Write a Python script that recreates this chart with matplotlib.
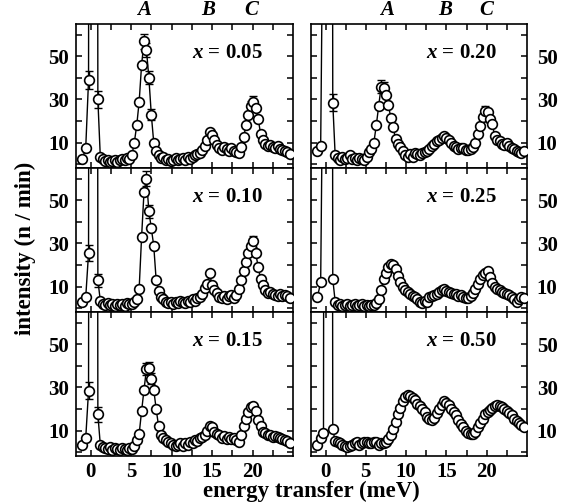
import matplotlib
matplotlib.use('Agg')
import matplotlib.pyplot as plt
from matplotlib.ticker import FixedLocator
import matplotlib.transforms as mtransforms

plt.rcParams['font.family'] = 'Liberation Serif'
plt.rcParams['font.weight'] = 'bold'
plt.rcParams['mathtext.fontset'] = 'custom'
plt.rcParams['mathtext.it'] = 'Liberation Serif:italic:bold'
plt.rcParams['mathtext.rm'] = 'Liberation Serif:bold'

# energy grid of the inelastic points (meV)
energy = [1.2, 1.5, 1.8, 2.1, 2.4, 2.7, 3.0, 3.3, 3.6, 3.9,
          4.2, 4.5, 4.8, 5.1, 5.4, 5.7, 6.0, 6.3, 6.6, 6.9,
          7.2, 7.5, 7.8, 8.1, 8.4, 8.7, 9.0, 9.3, 9.6, 9.9,
          10.2, 10.5, 10.8, 11.1, 11.4, 11.7, 12.0, 12.3, 12.6, 12.9,
          13.2, 13.5, 13.8, 14.1, 14.4, 14.7, 15.0, 15.3, 15.6, 15.9,
          16.2, 16.5, 16.8, 17.1, 17.4, 17.7, 18.0, 18.3, 18.6, 18.9,
          19.2, 19.5, 19.8, 20.1, 20.4, 20.7, 21.0, 21.3, 21.6, 21.9,
          22.2, 22.5, 22.8, 23.1, 23.4, 23.7, 24.0, 24.3, 24.6]

# points around the elastic line (the one at 0.3 is far off scale)
elastic_e = [-1.0, -0.6, -0.25, 0.3, 0.9]

i_005 = [3.5, 2.5, 1.5, 2.0, 1.0, 1.5, 2.0, 1.2, 2.0, 2.5,
         2.0, 3.0, 2.5, 4.0, 10.0, 18.0, 29.0, 46.0, 57.0, 53.0,
         40.0, 23.0, 10.0, 6.0, 4.0, 3.0, 3.5, 2.0, 2.5, 1.5,
         2.0, 3.0, 2.0, 2.5, 3.0, 2.0, 3.5, 2.5, 3.5, 4.0,
         4.5, 5.0, 6.5, 8.5, 11.0, 15.0, 13.5, 11.0, 9.0, 7.5,
         6.5, 8.0, 7.0, 6.0, 7.5, 6.0, 5.5, 5.0, 8.0, 12.5,
         18.0, 23.0, 27.0, 29.0, 26.0, 21.0, 14.0, 11.0, 9.5, 8.5,
         9.0, 8.0, 7.5, 8.5, 7.0, 6.5, 6.0, 5.5, 4.5]
i_010 = [3.5, 2.0, 1.5, 2.5, 1.5, 2.0, 1.0, 2.0, 1.5, 2.0,
         1.0, 2.5, 2.0, 2.0, 3.0, 4.0, 9.0, 33.0, 54.0, 60.0,
         45.0, 37.0, 29.0, 13.0, 8.0, 5.0, 4.0, 3.0, 2.5, 3.0,
         2.0, 3.0, 2.5, 3.5, 3.0, 2.5, 3.5, 3.0, 4.0, 3.5,
         4.5, 5.0, 6.5, 9.5, 11.0, 16.5, 10.5, 8.5, 7.0, 5.0,
         4.5, 5.5, 4.0, 5.5, 6.0, 4.5, 6.0, 9.0, 13.0, 17.0,
         21.5, 25.5, 29.0, 31.0, 25.5, 19.0, 13.5, 10.5, 8.5, 7.0,
         7.5, 6.5, 6.0, 5.5, 6.5, 5.5, 6.0, 5.5, 4.5]
i_015 = [3.5, 2.5, 2.0, 1.5, 2.5, 1.0, 2.0, 1.5, 1.0, 2.0,
         1.5, 1.0, 2.0, 1.5, 3.0, 5.5, 8.5, 19.0, 29.0, 38.5,
         39.0, 34.0, 29.0, 20.0, 12.0, 8.0, 6.5, 5.5, 4.5, 4.0,
         3.5, 3.0, 3.5, 4.0, 3.0, 4.0, 3.5, 4.5, 4.0, 5.5,
         5.0, 6.5, 7.0, 8.0, 10.0, 12.0, 11.5, 9.5, 8.5, 8.0,
         6.5, 7.5, 6.0, 7.0, 6.0, 6.5, 5.5, 4.5, 8.0, 12.0,
         15.5, 18.5, 21.0, 21.5, 19.0, 15.0, 12.0, 9.5, 9.0, 8.0,
         8.0, 7.0, 7.5, 7.0, 6.5, 6.0, 5.5, 5.0, 4.0]
i_020 = [4.0, 3.0, 2.0, 3.5, 2.5, 3.0, 4.0, 2.5, 3.0, 2.0,
         3.0, 2.5, 2.0, 3.5, 5.5, 7.0, 10.0, 18.0, 27.0, 36.0,
         35.5, 32.0, 27.5, 21.5, 17.0, 11.5, 9.5, 8.0, 6.0, 4.0,
         3.5, 4.5, 3.5, 5.0, 4.5, 4.0, 5.0, 5.5, 6.0, 7.0,
         8.5, 9.5, 10.5, 11.0, 12.0, 13.0, 12.0, 11.0, 10.0, 8.5,
         8.0, 7.0, 7.5, 7.5, 6.5, 6.5, 7.0, 8.0, 10.0, 14.0,
         17.5, 22.0, 24.5, 24.0, 21.0, 18.5, 13.0, 11.0, 10.5, 9.5,
         9.0, 10.0, 8.5, 7.5, 7.0, 6.0, 5.5, 5.0, 6.0]
i_025 = [3.0, 1.5, 2.0, 1.0, 1.5, 2.0, 1.0, 1.5, 2.0, 1.0,
         1.5, 2.0, 1.0, 1.5, 1.0, 1.5, 1.5, 2.5, 4.0, 8.5,
         13.5, 16.5, 19.0, 20.5, 20.0, 18.0, 15.0, 12.0, 10.0, 8.5,
         7.5, 6.5, 5.5, 5.0, 4.0, 3.0, 2.5, 3.5, 3.0, 5.0,
         5.5, 6.0, 6.5, 7.5, 8.5, 9.0, 8.0, 7.5, 7.0, 6.5,
         6.5, 5.5, 6.0, 5.0, 4.5, 4.5, 5.5, 7.0, 9.0, 11.0,
         13.5, 15.5, 16.5, 17.0, 14.5, 11.5, 10.0, 9.0, 8.5, 7.5,
         7.0, 6.5, 6.0, 5.0, 4.0, 3.0, 4.0, 5.0, 4.5]
i_050 = [5.0, 4.5, 4.0, 3.5, 3.0, 2.5, 3.0, 3.5, 4.0, 4.5,
         3.5, 4.0, 4.5, 4.5, 4.0, 4.0, 4.5, 4.5, 3.5, 4.0,
         4.0, 4.5, 6.0, 8.0, 10.5, 14.0, 17.5, 20.5, 23.5, 25.5,
         26.5, 26.0, 25.0, 24.0, 22.5, 21.5, 20.0, 18.5, 16.5, 15.5,
         15.0, 16.0, 18.0, 20.0, 22.0, 23.5, 23.0, 22.0, 20.0, 18.5,
         17.0, 15.0, 13.0, 11.5, 10.0, 9.0, 8.5, 8.5, 9.5, 11.5,
         13.5, 15.5, 17.5, 18.5, 19.5, 20.5, 21.5, 22.0, 21.5, 21.0,
         20.0, 19.0, 18.0, 17.0, 15.5, 14.5, 13.5, 12.5, 11.5]

el_005 = [2.6, 7.5, 39.0, 2000.0, 30.0]
el_010 = [2.7, 5.0, 25.5, 2000.0, 13.0]
el_015 = [3.4, 6.5, 28.5, 2000.0, 17.5]
el_020 = [6.1, 8.5, 150.0, 2000.0, 28.5]
el_025 = [5.2, 12.0, 150.0, 2000.0, 13.5]
el_050 = [3.5, 6.5, 9.0, 2000.0, 10.7]

# visible error bars: (energy, intensity, error)
bars_005 = [(-0.25, 39.0, 4.3), (0.9, 30.0, 4.0), (6.6, 57.0, 3.5),
            (6.9, 53.0, 3.2), (7.2, 40.0, 3.0), (7.5, 23.0, 2.5),
            (20.1, 29.0, 2.5), (19.8, 27.0, 2.4)]
bars_010 = [(-0.25, 25.5, 3.8), (0.9, 13.0, 3.0), (6.9, 60.0, 3.5),
            (7.2, 45.0, 3.0), (20.1, 31.0, 2.5)]
bars_015 = [(-0.25, 28.5, 4.0), (0.9, 17.5, 3.5), (6.9, 38.5, 2.8),
            (7.2, 39.0, 2.8), (7.5, 34.0, 2.6)]
bars_020 = [(0.9, 28.5, 3.8), (6.9, 36.0, 2.8), (7.2, 35.5, 2.6),
            (19.8, 24.5, 2.3)]
bars_025 = []
bars_050 = []

conc_labels = ['0.05', '0.10', '0.15', '0.20', '0.25', '0.50']
intensities = [i_005, i_010, i_015, i_020, i_025, i_050]
elastics = [el_005, el_010, el_015, el_020, el_025, el_050]
bars = [bars_005, bars_010, bars_015, bars_020, bars_025, bars_050]

peak_names = ['A', 'B', 'C']
peak_pos_left = [6.6, 14.5, 19.8]
peak_pos_right = [7.6, 14.8, 20.0]

fig = plt.figure(figsize=(5.71, 5.04), dpi=100)

col_x = [76 / 571, 311 / 571]
col_w = [217 / 571, 216 / 571]
row_h = 144 / 504
row_y = [1 - 168 / 504, 1 - 312 / 504, 1 - 456 / 504]

for n in range(6):
    col = n // 3
    row = n % 3
    ax = fig.add_axes([col_x[col], row_y[row], col_w[col], row_h])

    e_all = elastic_e + energy
    i_all = elastics[n] + intensities[n]

    # fit line behind, then error bars, then open circles
    ax.plot(e_all, i_all, '-', color='black', lw=1.0, zorder=1)
    for (e, i, d) in bars[n]:
        ax.errorbar(e, i, yerr=d, fmt='none', ecolor='black',
                    elinewidth=1.0, capsize=2.6, capthick=1.0, zorder=2)
    ax.plot(e_all, i_all, 'o', mfc='white', mec='black', ms=7.0,
            mew=1.2, zorder=3)

    ax.set_xlim(-1.8, 25)
    ax.set_ylim(-1.8, 65)

    ax.xaxis.set_major_locator(FixedLocator([0, 5, 10, 15, 20]))
    ax.xaxis.set_minor_locator(FixedLocator([2.5, 7.5, 12.5, 17.5, 22.5]))
    ax.yaxis.set_major_locator(FixedLocator([10, 30, 50]))
    ax.yaxis.set_minor_locator(FixedLocator([0, 20, 40, 60]))

    ax.tick_params(which='both', direction='in', top=True, right=True,
                   bottom=True, left=True, length=4.5, width=1.1,
                   labelsize=15)
    ax.tick_params(axis='x', pad=4)
    ax.tick_params(axis='y', pad=5)
    if row != 2:
        ax.tick_params(axis='x', labelbottom=False)
    if col == 1:
        ax.tick_params(axis='y', labelleft=False, labelright=True, pad=7)
    for s in ax.spines.values():
        s.set_linewidth(1.2)

    ax.text(0.86, 0.80, r'$x$ = ' + conc_labels[n], transform=ax.transAxes,
            ha='right', va='center', fontsize=15, fontweight='bold')

    if row == 0:
        pos = peak_pos_left if col == 0 else peak_pos_right
        trans = mtransforms.blended_transform_factory(ax.transData, ax.transAxes)
        for name, p in zip(peak_names, pos):
            ax.text(p, 1.025, name, transform=trans, ha='center', va='bottom',
                    fontsize=15, fontweight='bold', fontstyle='italic')

fig.text(0.044, 0.508, 'intensity (n / min)', rotation=90, ha='center',
         va='center', fontsize=16.5, fontweight='bold')
fig.text(0.545, 0.025, 'energy transfer (meV)', ha='center', va='center',
         fontsize=16.5, fontweight='bold')

fig.savefig('out.png', dpi=100)
